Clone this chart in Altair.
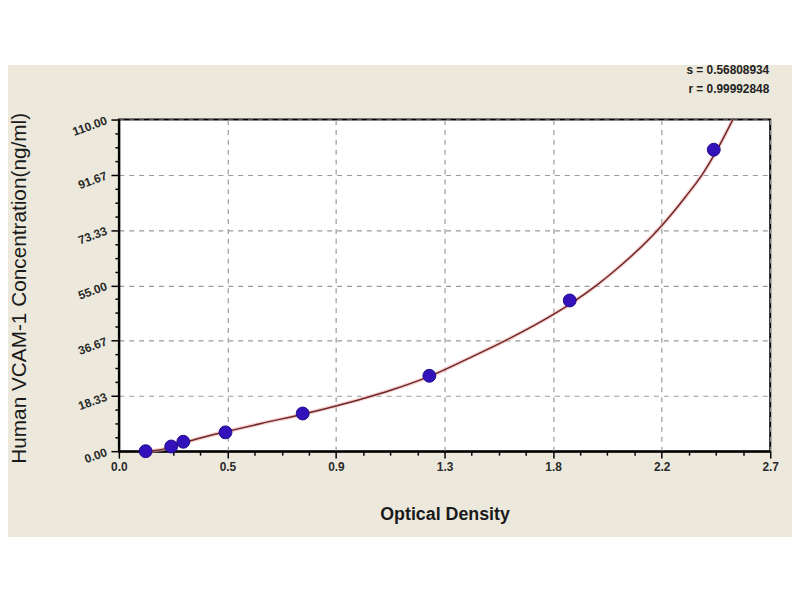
import json
import altair as alt
import pandas as pd

# Standard points (Optical Density vs concentration)
od = [0.111, 0.217, 0.267, 0.442, 0.762, 1.287, 1.869, 2.466]
conc = [0, 1.56, 3.125, 6.25, 12.5, 25, 50, 100]

# Fitted curve
curve_od = [0.11, 0.18, 0.25, 0.33, 0.44, 0.59, 0.77, 0.90, 1.01, 1.13, 1.29,
            1.45, 1.61, 1.81, 1.87, 1.98, 2.05, 2.25, 2.35, 2.42, 2.47, 2.545]
curve_conc = [0, 0.6, 2.3, 4.2, 6.4, 9.2, 12.4, 15.0, 17.4, 20.3, 24.9,
              30.8, 37.0, 45.8, 48.8, 55.0, 59.5, 74.8, 84.5, 92.0, 98.6, 110]

# Axis ticks and labels
x_major = [0, 0.45, 0.9, 1.35, 1.8, 2.25, 2.7]
x_labels = ["0.0", "0.5", "0.9", "1.3", "1.8", "2.2", "2.7"]
y_major = [0, 18.3333, 36.6667, 55, 73.3333, 91.6667, 110]
y_labels = ["0.00", "18.33", "36.67", "55.00", "73.33", "91.67", "110.00"]
x_minor = [round(i * 0.1125, 4) for i in range(25)]
y_minor = [round(i * 110 / 24, 4) for i in range(25)]

stats_lines = ["s = 0.56808934", "r = 0.99992848"]

pts = pd.DataFrame({"od": od, "conc": conc})
curve = pd.DataFrame({"od": curve_od, "conc": curve_conc})
blank = pd.DataFrame({"a": [0]})

x_step = 0.45
y_step = 110 / 6
x_test = f"abs(datum.value/{x_step} - round(datum.value/{x_step})) < 0.01"
y_test = f"abs(datum.value/{y_step} - round(datum.value/{y_step})) < 0.01"

x_axis = alt.Axis(
    values=x_minor,
    labelExpr=f"({x_test}) ? {json.dumps(x_labels)}[round(datum.value/{x_step})] : ''",
    tickSize={"condition": {"test": x_test, "value": 7}, "value": 4},
    tickWidth=1.5, tickColor="black",
    domainColor="black", domainWidth=2,
    grid=True, gridColor="#9a9a9a", gridDash=[5, 5], gridWidth=1.2,
    gridOpacity={"condition": {"test": x_test, "value": 1}, "value": 0},
    labelFont="Liberation Sans", labelFontWeight="bold", labelFontSize=12,
    labelColor="#2a2a2a", labelPadding=4, labelFlush=False, labelOverlap=False,
    title="Optical Density", titleFont="Liberation Sans", titleFontSize=18,
    titleFontWeight="bold", titleColor="#1a1a1a",
    titleX=329, titleY=64, titleBaseline="middle", titleAlign="center",
)

y_axis = alt.Axis(
    values=y_minor,
    labelExpr=f"({y_test}) ? {json.dumps(y_labels)}[round(datum.value/{y_step})] : ''",
    tickSize={"condition": {"test": y_test, "value": 8}, "value": 4},
    tickWidth=1.5, tickColor="black",
    domainColor="black", domainWidth=2,
    grid=True, gridColor="#9a9a9a", gridDash=[5, 5], gridWidth=1.2,
    gridOpacity={"condition": {"test": y_test, "value": 1}, "value": 0},
    labelFont="Liberation Sans", labelFontWeight="bold", labelFontSize=12,
    labelColor="#2a2a2a", labelPadding=5, labelAngle=340,
    labelAlign="right", labelBaseline="middle", labelOverlap=False,
    title="Human VCAM-1 Concentration(ng/ml)", titleFont="Liberation Sans",
    titleFontSize=21, titleFontWeight="normal", titleColor="#1a1a1a",
    titleX=-100, titleY=170, titleAngle=270, titleBaseline="middle",
    titleAlign="center",
)

x_enc = alt.X("od:Q", scale=alt.Scale(domain=[0, 2.7], nice=False), axis=x_axis)
y_enc = alt.Y("conc:Q", scale=alt.Scale(domain=[0, 110], nice=False), axis=y_axis)

top_white = alt.Chart(blank).mark_rect(color="white").encode(
    x=alt.value(-115), x2=alt.value(685), y=alt.value(-115), y2=alt.value(-55)
)

halo = alt.Chart(curve).mark_line(
    color="#f0b8b8", strokeWidth=4, opacity=0.6, interpolate="monotone"
).encode(x=x_enc, y=y_enc)

line = alt.Chart(curve).mark_line(
    color="#6e2626", strokeWidth=1.5, interpolate="monotone"
).encode(x=x_enc, y=y_enc)

points = alt.Chart(pts).mark_point(
    filled=True, size=170, color="#3311bb", stroke="#1f0a8a", strokeWidth=1,
    opacity=1,
).encode(x=x_enc, y=y_enc)

stat_layers = []
for i, txt in enumerate(stats_lines):
    stat_layers.append(
        alt.Chart(pd.DataFrame({"t": [txt]})).mark_text(
            align="right", baseline="middle", font="Liberation Sans",
            fontWeight="bold", fontSize=12, color="#222222",
        ).encode(x=alt.value(657), y=alt.value(-50 + 19 * i), text="t:N")
    )

chart = alt.layer(top_white, halo, line, points, *stat_layers).properties(
    width=658, height=335, autosize="none",
    padding={"left": 112, "top": 110, "right": 22, "bottom": 84},
    background="#ece9dc",
).configure_view(fill="white", stroke="black", strokeWidth=2)

chart.save("out.html", embed_options={"renderer": "svg", "actions": False})
